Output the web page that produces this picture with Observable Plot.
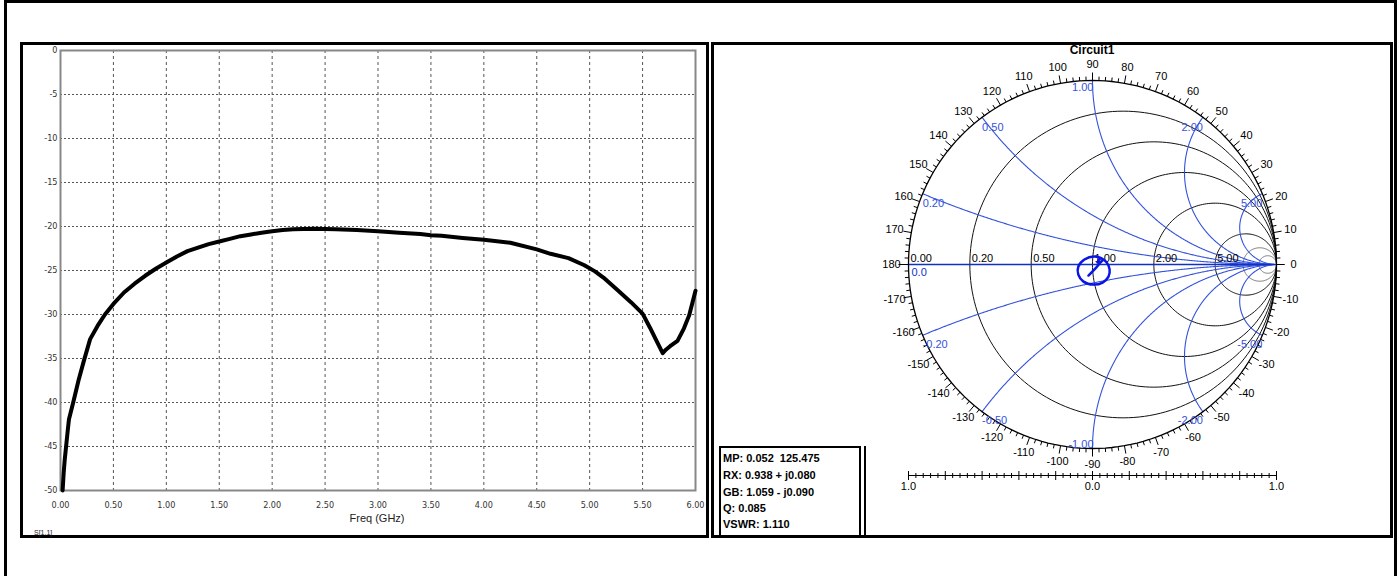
<!DOCTYPE html>
<html><head><meta charset="utf-8">
<script src="https://cdn.jsdelivr.net/npm/d3@7"></script>
<script src="https://cdn.jsdelivr.net/npm/@observablehq/plot@0.6"></script>
<style>
body{margin:0;background:#fff;}
#wrap{position:relative;width:1399px;height:576px;overflow:hidden;font-family:"Liberation Sans",Arial,sans-serif;background:#fff;}
.box{position:absolute;border:3px solid #000;box-sizing:border-box;}
.abs{position:absolute;white-space:pre;}
.info{position:absolute;left:723px;font:bold 11px "Liberation Sans",Arial,sans-serif;line-height:14px;white-space:pre;color:#000;}
</style></head><body><div id="wrap">
<div class="box" style="left:4px;top:0px;width:1393px;height:590px"></div>
<div class="box" style="left:20px;top:42px;width:689px;height:496px"></div>
<div class="box" style="left:711px;top:42px;width:682px;height:496px"></div>
<div id="left" class="abs" style="left:23px;top:45px"></div>
<div id="right" class="abs" style="left:714px;top:45px"></div>
<div class="abs" style="left:327px;top:512px;width:100px;text-align:center;font:11px 'Liberation Sans Narrow','Arial Narrow',sans-serif;color:#222">Freq (GHz)</div>
<div class="abs" style="left:34px;top:529px;font:7px 'Liberation Sans Narrow','Arial Narrow',sans-serif;color:#222">S[1,1]</div>
<div class="abs" style="left:1042px;top:43px;width:100px;text-align:center;font:bold 12px 'Liberation Sans',Arial,sans-serif;">Circuit1</div>
<div class="abs" style="left:719px;top:446px;width:142px;height:92px;border:2px solid #000;border-bottom:none;box-sizing:border-box"></div>
<div class="abs" style="left:864px;top:446px;width:2px;height:92px;background:#000"></div>
<div id="infoText"></div>
</div>
<script>
// ---------- Data ----------
const freqGHz = [0.02,0.03,0.04,0.07,0.08,0.12,0.17,0.22,0.28,0.35,0.42,0.50,0.60,0.70,0.80,0.90,1.00,1.10,1.20,1.30,1.40,1.50,1.60,1.70,1.80,1.90,2.00,2.10,2.20,2.40,2.60,2.80,3.00,3.20,3.40,3.50,3.60,3.80,4.00,4.25,4.50,4.63,4.80,4.95,5.05,5.13,5.26,5.39,5.50,5.57,5.64,5.69,5.72,5.76,5.83,5.89,5.94,6.00];
const s11dB =   [-50,-48,-46.5,-43,-41.9,-40,-37.5,-35.3,-32.8,-31.3,-30,-28.8,-27.5,-26.5,-25.6,-24.8,-24.1,-23.4,-22.8,-22.4,-22.0,-21.7,-21.4,-21.1,-20.9,-20.7,-20.55,-20.4,-20.3,-20.25,-20.3,-20.4,-20.55,-20.7,-20.85,-21.0,-21.05,-21.3,-21.5,-21.85,-22.6,-23.1,-23.6,-24.4,-25.1,-25.8,-27.2,-28.6,-29.9,-31.5,-33.2,-34.4,-34.0,-33.6,-33.0,-31.6,-30.1,-27.3];
const freqTicks = [0,0.5,1,1.5,2,2.5,3,3.5,4,4.5,5,5.5,6];
const dbTicks = [0,-5,-10,-15,-20,-25,-30,-35,-40,-45,-50];

// Smith chart trace (reflection coefficient, re / im)
const gammaRe = [-0.022,0.011,0.038,0.055,0.011,-0.044,-0.077,-0.077,-0.049,0.005,0.055,0.087,0.093,0.077,0.044,0.027];
const gammaIm = [-0.060,-0.027,0.005,0.027,0.044,0.027,-0.011,-0.055,-0.093,-0.109,-0.098,-0.066,-0.027,0.011,0.033,0.011];

const resistanceValues = [0.2, 0.5, 1, 2, 5];
const resistanceFine = [10, 20];
const reactanceValues = [0.2, 0.5, 1, 2, 5];
const resistanceLabels = ["0.00","0.20","0.50","1.00","2.00","5.00"];
const resistanceLabelValues = [0, 0.2, 0.5, 1, 2, 5];
const angleLabelValues = [-170,-160,-150,-140,-130,-120,-110,-100,-90,-80,-70,-60,-50,-40,-30,-20,-10,0,10,20,30,40,50,60,70,80,90,100,110,120,130,140,150,160,170,180];
const scaleLabels = ["1.0","0.0","1.0"];
const scaleLabelPos = [-1, 0, 1];
const infoLines = ["MP: 0.052  125.475","RX: 0.938 + j0.080","GB: 1.059 - j0.090","Q: 0.085","VSWR: 1.110"];

// ---------- Info box ----------
const infoTops = [451,468,485,501,517];
document.getElementById("infoText").innerHTML = infoLines.map((t,i)=>`<div class="info" style="top:${infoTops[i]}px">${t}</div>`).join("");

// ---------- Left chart ----------
const s11 = freqGHz.map((f,i)=>({f, db: s11dB[i]}));
const narrow = "'Liberation Sans Narrow','Arial Narrow','DejaVu Sans Condensed',sans-serif";
const leftSvg = Plot.plot({
  width: 683, height: 490,
  marginLeft: 37, marginRight: 11, marginTop: 5, marginBottom: 45,
  style: {background: "transparent", fontFamily: narrow, fontSize: "9px", color: "#333", overflow: "visible"},
  x: {domain: [0, 6], ticks: freqTicks, tickFormat: d => d.toFixed(2), tickSize: 0, tickPadding: 11, label: null},
  y: {domain: [-50, 0], ticks: dbTicks, tickFormat: d => String(d), tickSize: 0, tickPadding: 3, label: null},
  marks: [
    Plot.ruleX(freqTicks.slice(1, -1), {stroke: "#555", strokeWidth: 1, strokeDasharray: "3,3"}),
    Plot.ruleY(dbTicks.slice(1, -1), {stroke: "#555", strokeWidth: 1, strokeDasharray: "2,2"}),
    Plot.frame({stroke: "#888", strokeWidth: 2}),
    Plot.line(s11, {x: "f", y: "db", stroke: "#000", strokeWidth: 4, strokeLinejoin: "round", strokeLinecap: "round"})
  ]
});
document.getElementById("left").appendChild(leftSvg);

// ---------- Smith chart ----------
const R = 184, W = 676, H = 490, CX = 378, CY = 219;
const rad = Math.PI / 180;
function circlePts(cx, cy, r, key) {
  return d3.range(0, 361, 2).map(a => ({x: cx + r * Math.cos(a * rad), y: cy + r * Math.sin(a * rad), k: key}));
}
function arcPts(xv) {
  const th = d3.range(0, Math.PI / 2, 0.004);
  const pts = th.map(t => { const r = Math.tan(t); const d = (r + 1) ** 2 + xv * xv; return {x: (r * r - 1 + xv * xv) / d, y: 2 * xv / d, k: xv}; });
  pts.push({x: 1, y: 0, k: xv});
  return pts;
}
const resPts = resistanceValues.flatMap(r => circlePts(r / (1 + r), 0, 1 / (1 + r), r));
const finePts = resistanceFine.flatMap(r => circlePts(r / (1 + r), 0, 1 / (1 + r), r));
const outerPts = circlePts(0, 0, 1, "outer");
const arcs = reactanceValues.flatMap(v => [...arcPts(v), ...arcPts(-v)]);
const ticks = d3.range(-180, 180, 2).map(a => { const len = (a % 10 === 0 ? 8 : 4) / R; return {x1: Math.cos(a * rad), y1: Math.sin(a * rad), x2: (1 + len) * Math.cos(a * rad), y2: (1 + len) * Math.sin(a * rad)}; });
const angleLabels = angleLabelValues.map(a => ({x: (201 / R) * Math.cos(a * rad), y: (200 / R) * Math.sin(a * rad), t: String(a)}));
const resLabels = resistanceLabelValues.map((r, i) => ({x: (r - 1) / (r + 1), y: 0, t: resistanceLabels[i]}));
function xPoint(xv) { const a = Math.PI - 2 * Math.atan(Math.abs(xv)); return {x: Math.cos(a), y: Math.sign(xv) * Math.sin(a), v: xv, t: xv.toFixed(2)}; }
const xLabPos = reactanceValues.filter(v => v < 1).map(xPoint);
const xLabPosR = reactanceValues.filter(v => v > 1).map(xPoint);
const xLabNeg = reactanceValues.filter(v => v < 1).map(v => xPoint(-v));
const xLabNegR = reactanceValues.filter(v => v > 1).map(v => xPoint(-v));
const trace = gammaRe.map((g, i) => ({x: g, y: gammaIm[i]}));
const yB = (CY - 430) / R, yL = (CY - 441) / R;
const scaleTicks = d3.range(0, 51).map(i => { const v = -1 + i * 0.04; const major = i % 5 === 0; const h = (major ? 4.5 : 2.5) / R; return {x: v, y1: yB - h, y2: yB + h}; });
const scaleLab = scaleLabelPos.map((p, i) => ({x: p, t: scaleLabels[i]}));
const blue = "#3352dc", blueDark = "#1030c8", tfont = "'Liberation Sans',Arial,sans-serif";

const smith = Plot.plot({
  width: W, height: H, margin: 0,
  style: {background: "transparent", fontFamily: tfont, fontSize: "11px", overflow: "visible"},
  x: {domain: [-CX / R, (W - CX) / R], range: [0, W], axis: null},
  y: {domain: [(CY - H) / R, CY / R], range: [H, 0], axis: null},
  marks: [
    Plot.line(finePts, {x: "x", y: "y", z: "k", stroke: "#555", strokeWidth: 0.8}),
    Plot.line(resPts, {x: "x", y: "y", z: "k", stroke: "#111", strokeWidth: 1}),
    Plot.line(arcs, {x: "x", y: "y", z: "k", stroke: blue, strokeWidth: 1.1}),
    Plot.link([{x1: -1, y1: 0, x2: 1, y2: 0}], {x1: "x1", y1: "y1", x2: "x2", y2: "y2", stroke: blueDark, strokeWidth: 1.3}),
    Plot.link([{x1: -1 - 10 / R, y1: 0, x2: -1, y2: 0}, {x1: 1, y1: 0, x2: 1 + 8 / R, y2: 0}], {x1: "x1", y1: "y1", x2: "x2", y2: "y2", stroke: "#000", strokeWidth: 1}),
    Plot.line(outerPts, {x: "x", y: "y", stroke: "#000", strokeWidth: 1.3}),
    Plot.link(ticks, {x1: "x1", y1: "y1", x2: "x2", y2: "y2", stroke: "#000", strokeWidth: 1}),
    Plot.text(angleLabels, {x: "x", y: "y", text: "t", fill: "#000"}),
    Plot.text(resLabels, {x: "x", y: "y", text: "t", fill: "#000", textAnchor: "start", dx: 2, dy: -6}),
    Plot.text([{x: -1, y: 0, t: "0.0"}], {x: "x", y: "y", text: "t", fill: blueDark, textAnchor: "start", dx: 3, dy: 8}),
    Plot.text(xLabPos, {x: "x", y: "y", text: "t", fill: blue, textAnchor: "start", dx: 0, dy: 10}),
    Plot.text(xLabPosR, {x: "x", y: "y", text: "t", fill: blue, textAnchor: "end", dx: 0, dy: 10}),
    Plot.text([xPoint(1)], {x: "x", y: "y", text: "t", fill: blue, textAnchor: "end", dx: 1, dy: 7}),
    Plot.text(xLabNeg, {x: "x", y: "y", text: "t", fill: blue, textAnchor: "start", dx: 0, dy: 9}),
    Plot.text(xLabNegR, {x: "x", y: "y", text: "t", fill: blue, textAnchor: "end", dx: 0, dy: 9}),
    Plot.text([xPoint(-1)], {x: "x", y: "y", text: "t", fill: blue, textAnchor: "end", dx: 1, dy: -4}),
    Plot.line(trace, {x: "x", y: "y", stroke: "#0a14e6", strokeWidth: 2.5, strokeLinejoin: "round", curve: "catmull-rom"}),
    Plot.link([{x1: -1, x2: 1, y: yB}], {x1: "x1", x2: "x2", y1: "y", y2: "y", stroke: "#000", strokeWidth: 1}),
    Plot.link(scaleTicks, {x1: "x", x2: "x", y1: "y1", y2: "y2", stroke: "#000", strokeWidth: 1}),
    Plot.text(scaleLab, {x: "x", y: () => yL, text: "t", fill: "#000"})
  ]
});
document.getElementById("right").appendChild(smith);
</script>
</body></html>
